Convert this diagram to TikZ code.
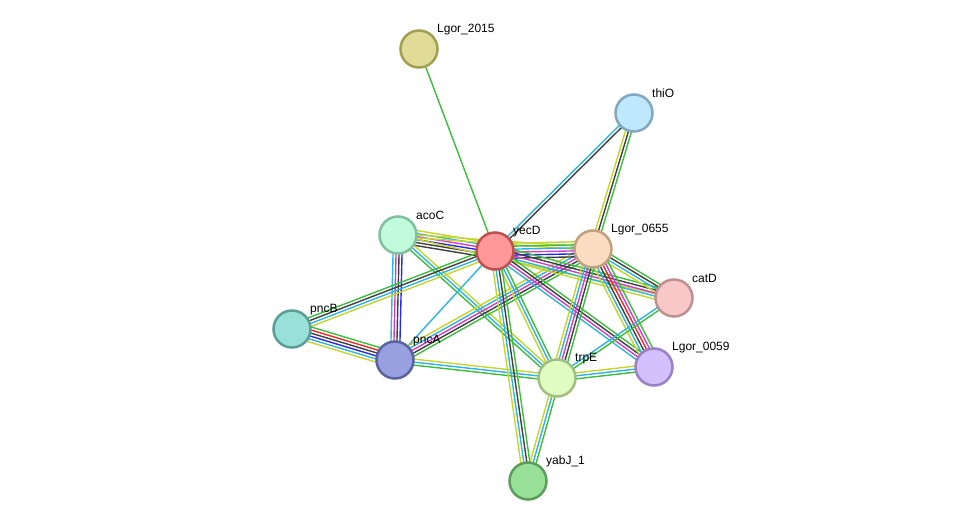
\documentclass[tikz,border=0pt]{standalone}
\usepackage{fontspec}
\setmainfont{Liberation Sans}
\usetikzlibrary{calc,backgrounds}
\definecolor{eG}{RGB}{60,190,60}
\definecolor{eY}{RGB}{196,214,42}
\definecolor{eC}{RGB}{45,180,224}
\definecolor{eK}{RGB}{64,64,64}
\definecolor{eM}{RGB}{210,60,210}
\definecolor{eB}{RGB}{40,40,240}
\definecolor{eR}{RGB}{240,40,40}
\tikzset{
  prot/.style={circle,minimum size=37pt,inner sep=0pt,line width=2.5pt},
  lbl/.style={anchor=west,font=\fontsize{12}{14}\selectfont,inner sep=0pt},
  edge/.style={line width=1.4pt},
}
\newcommand\medge[3]{%
  \def\mynn{0}\foreach \c in {#3}{\xdef\mynn{\the\numexpr\mynn+1\relax}}%
  \foreach \c [count=\i] in {#3}{%
    \pgfmathsetmacro\myoff{((\mynn-1)/2-(\i-1))*3}%
    \draw[edge,draw=\c] ($(#1)!\myoff pt!90:(#2)$) -- ($(#2)!\myoff pt!-90:(#1)$);
  }}
\newcommand\prot[6]{% name, x, y, fill, border, label
  \definecolor{f#1}{HTML}{#4}\definecolor{b#1}{HTML}{#5}%
  \node[prot,fill=f#1,draw=b#1] (#1) at (#2,#3) {};
  \node[lbl] (#1-l) at (#2+18,#3-19.5) {#6};
}
\begin{document}
\begin{tikzpicture}[x=1pt,y=-1pt]
\useasboundingbox (0,0) rectangle (975,527);
\prot{l2015}{419}{49}{E0DC98}{A0A050}{Lgor\_2015}
\prot{thiO}{634}{113}{C0E8FC}{80A8C0}{thiO}
\prot{acoC}{398}{235}{C0FCDC}{80C0A0}{acoC}
\prot{yecD}{495}{251}{FF9898}{C05050}{yecD}
\prot{l0655}{593}{249}{FCDCC0}{C0A080}{Lgor\_0655}
\prot{catD}{674}{298}{F8C8C8}{C09090}{catD}
\prot{pncB}{292}{329}{98E0D8}{5A9E98}{pncB}
\prot{pncA}{395}{360}{98A0E0}{5A62A0}{pncA}
\prot{trpE}{557}{378}{E0FCC0}{A0C080}{trpE}
\prot{l0059}{654}{367}{D4C0FC}{9A80C8}{Lgor\_0059}
\prot{yabJ}{528}{481}{98E098}{5A9E5A}{yabJ\_1}
\begin{pgfonlayer}{background}
\fill[white] (0,0) rectangle (975,527);
\medge{l2015}{yecD}{eG}
\medge{thiO}{yecD}{eK,eC}
\medge{thiO}{l0655}{eG,eK,eY}
\medge{acoC}{yecD}{eY,eC,eM,eB,eK,eK}
\medge{acoC}{l0655}{eY,eY}
\medge{acoC}{catD}{eY}
\medge{acoC}{pncA}{eB,eK,eM,eC}
\medge{acoC}{trpE}{eY,eC,eG}
\medge{pncB}{yecD}{eG,eK,eC,eY}
\medge{pncB}{pncA}{eG,eR,eK,eB,eC,eY}
\medge{pncA}{yecD}{eC}
\medge{pncA}{l0655}{eY,eC,eM,eK,eG}
\medge{pncA}{trpE}{eY,eC,eG}
\medge{yecD}{l0655}{eY,eG,eC,eM,eB,eK}
\medge{yecD}{catD}{eG,eK,eM,eC,eY}
\medge{yecD}{l0059}{eG,eK,eM,eC}
\medge{yecD}{trpE}{eG,eC,eY}
\medge{yecD}{yabJ}{eG,eK,eC,eY}
\medge{l0655}{catD}{eG,eK,eC,eY}
\medge{l0655}{l0059}{eG,eM,eR,eK,eC,eY}
\medge{l0655}{trpE}{eG,eK,eM,eC,eY}
\medge{catD}{trpE}{eG,eC}
\medge{trpE}{l0059}{eY,eC,eG}
\medge{trpE}{yabJ}{eG,eC,eY}
\end{pgfonlayer}
\end{tikzpicture}
\end{document}
